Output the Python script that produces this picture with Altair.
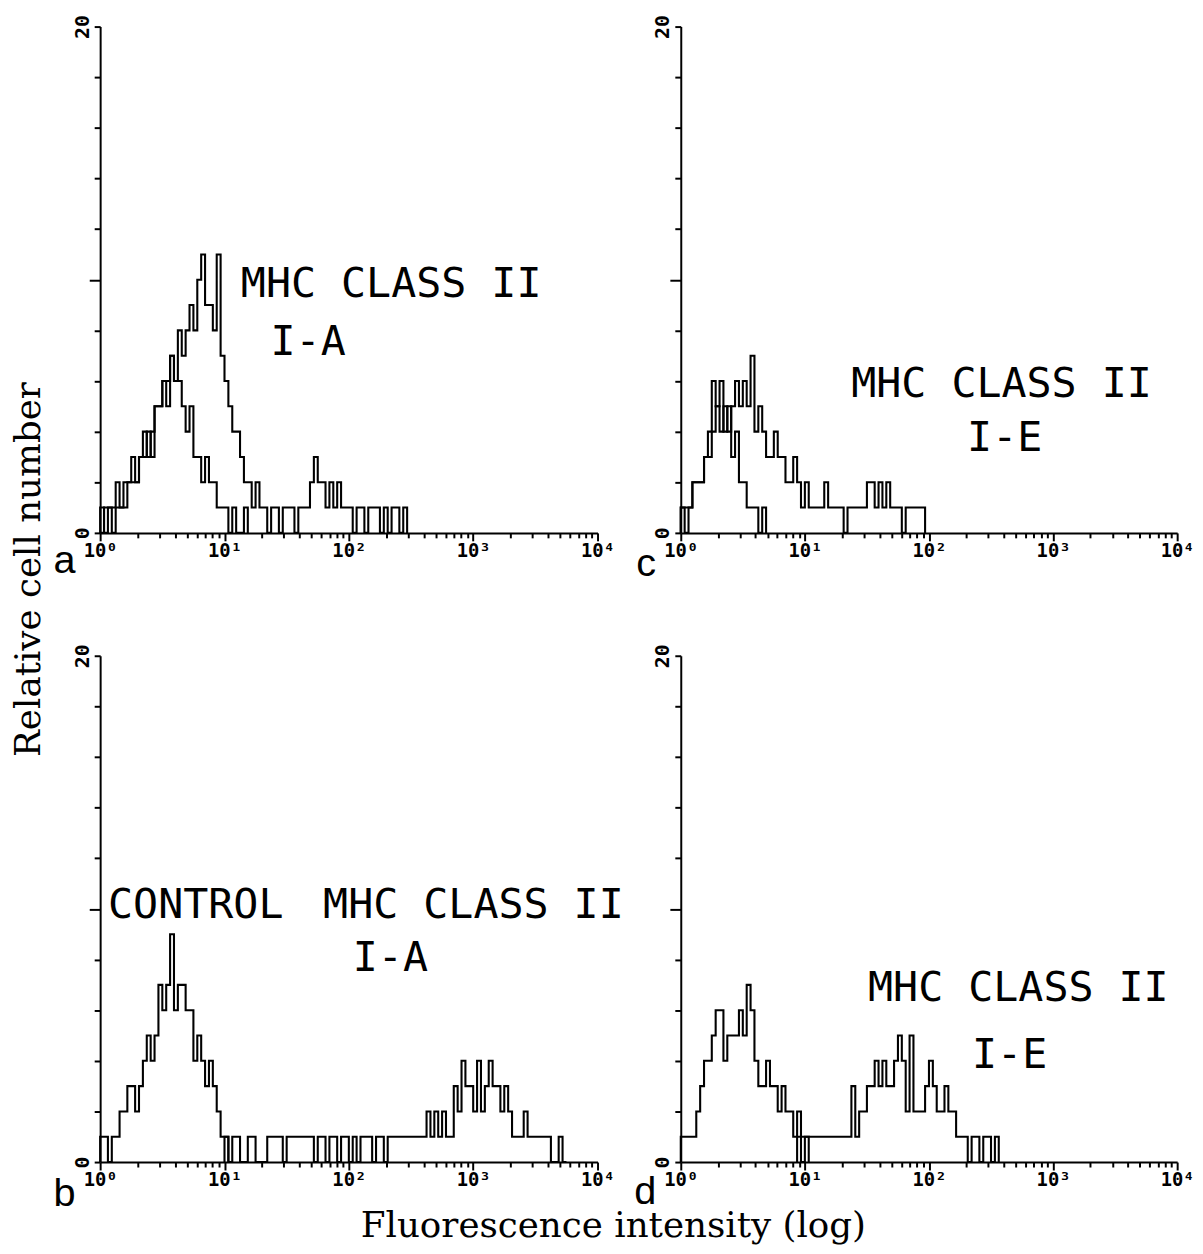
import altair as alt
import pandas as pd

# channels per decade of the log fluorescence axis (bin edges = 10 ** (channel / CH))
CH = 32

# ---- panel a : MHC class II I-A ----
a_ctrl_start = 0
a_ctrl = [1, 0, 1, 1, 2, 1, 2, 2, 3, 2, 3, 4, 3, 4, 5, 5, 6, 5, 7, 6, 6, 5, 4, 5, 3,
          3, 2, 3, 2, 2, 1, 1, 1, 0, 1, 0, 0, 1]
a_mhc_start = 0
a_mhc = [0, 1, 1, 0, 1, 1, 1, 2, 2, 2, 3, 3, 4, 3, 5, 5, 6, 6, 7, 6, 8, 7, 8, 9,
         8, 10, 11, 9, 9, 8, 11, 7, 6, 5, 4, 4, 3, 2, 2, 1, 2, 1,
         1, 0, 1, 1, 0, 1, 1, 1, 0, 1, 1, 1,
         2, 3, 2, 2, 1, 2, 1, 2, 1,
         1, 1, 0, 1, 1, 0, 1, 1, 1, 0, 1, 0, 1, 1, 0, 1]

# ---- panel b : control + MHC class II I-A ----
b_ctrl_start = 0
b_ctrl = [1, 1, 0, 1, 1, 2, 2, 3, 3, 2, 3, 4, 5, 4, 5, 7, 6, 7, 9, 6, 7, 7, 6, 6,
          4, 5, 4, 3, 4, 3, 2, 1, 1]
b_mhc_start = 32
b_mhc = [1, 0, 1, 1, 0, 0, 1, 1, 0, 0, 0, 1, 1, 1, 1, 0, 1, 1, 1, 1, 1, 1, 1, 0,
         1, 1, 0, 1, 1, 0, 1, 1, 0, 1, 0, 1, 1, 1, 0, 1, 1, 0, 1, 1, 1, 1, 1, 1,
         1, 1, 1,
         1, 2, 1, 2, 1, 2, 1, 1, 3, 2, 4, 3, 3, 2, 4, 2, 3, 4, 3, 3, 2, 3, 2,
         1, 1, 1, 2, 1, 1, 1, 1, 1, 1, 0, 0, 1, 0]

# ---- panel c : MHC class II I-E ----
c_ctrl_start = 0
c_ctrl = [1, 0, 1, 2, 2, 2, 3, 4, 6, 5, 6, 4, 5, 3, 4, 2, 2, 1, 1, 1, 0, 1]
c_mhc_start = 0
c_mhc = [1, 1, 1, 2, 2, 2, 3, 3, 4, 5, 4, 5, 4, 5, 6, 5, 6, 5, 7, 4, 5, 4, 3, 3,
         4, 3, 3, 2, 2, 3, 2, 1, 2, 1, 1, 1, 1, 2, 1, 1, 1, 1, 0, 1, 1, 1, 1, 1,
         2, 2, 1, 2, 1, 2, 1, 1, 1, 0, 1, 1, 1, 1, 1]

# ---- panel d : MHC class II I-E ----
d_ctrl_start = 0
d_ctrl = [1, 1, 1, 1, 2, 3, 4, 4, 5, 6, 6, 4, 5, 5, 5, 6, 5, 7, 6, 4, 3, 3, 4, 3,
          3, 2, 3, 2, 2, 1, 2, 1, 1]
d_mhc_start = 30
d_mhc = [1, 0, 1, 1, 1, 1, 1, 1, 1, 1, 1, 1, 1, 1, 3, 1, 2, 2, 3, 3, 4, 3, 4, 3,
         3, 4, 5, 4, 2, 5, 2, 2, 2, 3, 4, 3, 2, 2, 3, 2, 2, 1, 1, 1, 0, 1, 1, 0,
         1, 1, 0, 1]

x_tick_values = [m * 10 ** e for e in range(4) for m in range(1, 10)] + [10000]
y_tick_values = list(range(0, 21, 2))

series = [
    ("a", "control", a_ctrl_start, a_ctrl),
    ("a", "mhc", a_mhc_start, a_mhc),
    ("b", "control", b_ctrl_start, b_ctrl),
    ("b", "mhc", b_mhc_start, b_mhc),
    ("c", "control", c_ctrl_start, c_ctrl),
    ("c", "mhc", c_mhc_start, c_mhc),
    ("d", "control", d_ctrl_start, d_ctrl),
    ("d", "mhc", d_mhc_start, d_mhc),
]

rows = []
for panel_key, name, start, counts in series:
    pts = [(start, 0)] + [(start + k, c) for k, c in enumerate(counts)] + [(start + len(counts), 0)]
    for i, (ch, c) in enumerate(pts):
        rows.append({"panel": panel_key, "series": name, "order": i,
                     "x": 10 ** (ch / CH), "y": c})
df = pd.DataFrame(rows)

MONO = "DejaVu Sans Mono"
SERIF = "DejaVu Serif"
SANS = "Liberation Sans"

decade_test = "abs(log(datum.value)/LN10 - round(log(datum.value)/LN10)) < 0.000001"

x_axis = alt.Axis(
    values=x_tick_values,
    labelExpr="(" + decade_test + ") ? '10' + ['\u2070','\u00b9','\u00b2','\u00b3','\u2074'][round(log(datum.value)/LN10)] : ''",
    tickSize={"condition": {"test": decade_test, "value": 8}, "value": 5},
    labelOverlap=False,
    labelFlush=False,
    labelPadding=1,
    labelFontSize=19,
    labelFontWeight="bold",
    title=None,
)
y_axis = alt.Axis(
    values=y_tick_values,
    labelExpr="(datum.value == 0 || datum.value == 20) ? datum.label : ''",
    tickSize={"condition": {"test": "datum.value == 10", "value": 11}, "value": 6},
    labelAngle=270,
    labelAlign="center",
    labelBaseline="bottom",
    labelPadding=2,
    labelOverlap=False,
    labelFontSize=20,
    labelFontWeight="bold",
    title=None,
)


def text(t, x, y, font, size, align="left", baseline="alphabetic", angle=0):
    kw = dict(text=t, font=font, fontSize=size, align=align, baseline=baseline, color="black")
    if angle:
        kw["angle"] = angle
    return alt.Chart(alt.Data(values=[{}])).mark_text(**kw).encode(
        x=alt.value(x), y=alt.value(y))


def panel(key, width, extras):
    hist = alt.Chart(df).transform_filter(alt.datum.panel == key).mark_line(
        interpolate="step-after", color="black", strokeWidth=2.1
    ).encode(
        x=alt.X("x:Q", scale=alt.Scale(type="log", domain=[1, 10000], nice=False), axis=x_axis),
        y=alt.Y("y:Q", scale=alt.Scale(domain=[0, 20], nice=False), axis=y_axis),
        detail="series:N",
        order="order:Q",
    )
    return alt.layer(hist, *extras).properties(width=width, height=511)


H = 511
pa = panel("a", 502, [
    text("MHC CLASS II", 142, 273, MONO, 42),
    text("I-A", 172, 331, MONO, 42),
    text("a", -47, H + 40, SANS, 40),
    text("Relative cell number", -72, 548, SERIF, 36, align="center", baseline="middle", angle=270),
])
pc = panel("c", 501, [
    text("MHC CLASS II", 172, 374, MONO, 42),
    text("I-E", 289, 428, MONO, 42),
    text("c", -45, H + 44, SANS, 40),
])
pb = panel("b", 502, [
    text("CONTROL", 8, 265, MONO, 42),
    text("MHC CLASS II", 225, 265, MONO, 42),
    text("I-A", 255, 318, MONO, 42),
    text("b", -47, H + 44, SANS, 40),
    text("Fluorescence intensity (log)", 518, H + 76, SERIF, 36, align="center"),
])
pd_ = panel("d", 501, [
    text("MHC CLASS II", 189, 348, MONO, 42),
    text("I-E", 294, 416, MONO, 42),
    text("d", -47, H + 42, SANS, 40),
])

chart = alt.concat(
    pa, pc, pb, pd_, columns=2, spacing={"row": 124, "column": 84}, bounds="flush"
).properties(
    padding={"left": 3, "top": 0, "right": 0, "bottom": 0}
).configure_view(
    stroke=None
).configure_axis(
    grid=False,
    domainColor="black",
    domainWidth=2,
    tickColor="black",
    tickWidth=2,
    labelColor="black",
    labelFont=MONO,
)

chart.save("out.html", embed_options={"renderer": "svg", "actions": False})
